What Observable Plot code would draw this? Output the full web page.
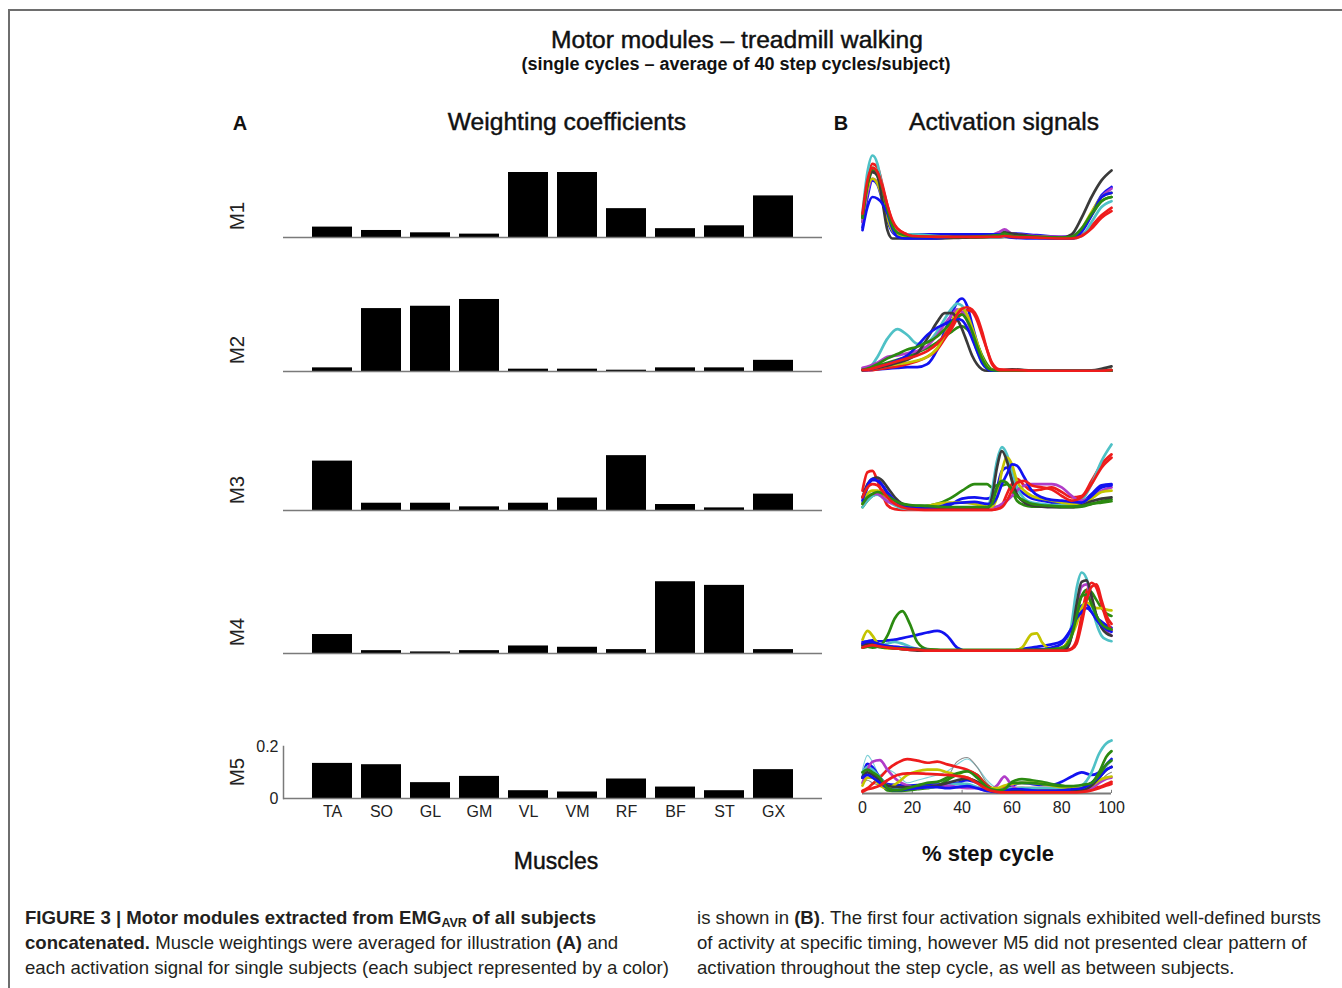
<!DOCTYPE html>
<html>
<head>
<meta charset="utf-8">
<script src="https://cdn.jsdelivr.net/npm/d3@7"></script>
<script src="https://cdn.jsdelivr.net/npm/@observablehq/plot@0.6"></script>
<style>
  html, body { margin: 0; padding: 0; background: #fff; }
  #fig { position: relative; width: 1342px; height: 988px; overflow: hidden;
         font-family: "Liberation Sans", Arial, Helvetica, sans-serif; color: #111; }
  .t { position: absolute; white-space: nowrap; line-height: 1; }
  .c { transform: translate(-50%, -50%); }
  .rot { transform: translate(-50%, -50%) rotate(-90deg); }
  .med { -webkit-text-stroke: 0.45px #111; }
  .cap { position: absolute; white-space: nowrap; font-size: 18.6px; line-height: 25px; color: #231f20; }
  .cap b { font-weight: bold; }
  .cap sub { font-size: 12.5px; vertical-align: -3px; line-height: 0; }
  .plot { position: absolute; }
</style>
</head>
<body>
<div id="fig"></div>
<script>
// ---------------- DATA ----------------
const muscles = ["TA", "SO", "GL", "GM", "VL", "VM", "RF", "BF", "ST", "GX"];
const modules = ["M1", "M2", "M3", "M4", "M5"];

// Weighting coefficients (panel A)
const wM1 = [0.040, 0.027, 0.018, 0.013, 0.250, 0.250, 0.111, 0.034, 0.045, 0.160];
const wM2 = [0.014, 0.242, 0.251, 0.277, 0.009, 0.009, 0.005, 0.014, 0.014, 0.043];
const wM3 = [0.190, 0.028, 0.028, 0.014, 0.028, 0.048, 0.211, 0.023, 0.010, 0.063];
const wM4 = [0.073, 0.011, 0.006, 0.011, 0.029, 0.024, 0.015, 0.276, 0.262, 0.015];
const wM5 = [0.135, 0.130, 0.061, 0.085, 0.030, 0.025, 0.075, 0.044, 0.030, 0.111];
const m5Ticks = [0, 0.2];

// Activation signals (panel B): % step cycle grid per module, one series per subject
const subjectColors = ["#1212f0", "#2b8a10", "#ee1c1c", "#4fc1c6", "#b03cc8", "#c4c400", "#3a3a3a", "#1212f0", "#2b8a10", "#ee1c1c"];
const stepTicks = [0, 20, 40, 60, 80, 100];

const xM1 = [0,2,4,6,8,10,12,14,17,20,30,40,50,55,57,60,70,80,84,88,92,96,100];
const sigM1 = [
  [0.13,0.5,0.7,0.65,0.45,0.22,0.08,0.04,0.05,0.05,0.05,0.05,0.05,0.05,0.05,0.06,0.04,0.02,0.03,0.12,0.30,0.52,0.62],
  [0.2,0.6,0.82,0.75,0.5,0.25,0.1,0.05,0.03,0.02,0.01,0.01,0.02,0.05,0.08,0.04,0.02,0.01,0.02,0.1,0.28,0.45,0.5],
  [0.25,0.7,0.9,0.86,0.65,0.4,0.2,0.12,0.06,0.03,0.01,0.01,0.01,0.01,0.02,0.01,0.01,0.0,0.0,0.04,0.15,0.28,0.37],
  [0.3,0.8,1.0,0.9,0.6,0.3,0.1,0.06,0.05,0.05,0.03,0.01,0.01,0.01,0.02,0.01,0.01,0.0,0.0,0.03,0.2,0.38,0.45],
  [0.2,0.55,0.72,0.68,0.5,0.28,0.1,0.04,0.02,0.02,0.02,0.02,0.03,0.08,0.11,0.06,0.03,0.02,0.02,0.1,0.3,0.5,0.6],
  [0.25,0.6,0.72,0.66,0.48,0.25,0.1,0.04,0.02,0.01,0.01,0.01,0.02,0.03,0.06,0.03,0.02,0.01,0.02,0.12,0.32,0.5,0.55],
  [0.25,0.65,0.8,0.76,0.45,0.1,0.0,0.0,0.0,0.0,0.0,0.01,0.02,0.03,0.07,0.06,0.02,0.01,0.05,0.25,0.5,0.7,0.82],
  [0.1,0.38,0.5,0.48,0.42,0.3,0.12,0.02,0.0,0.0,0.0,0.04,0.05,0.05,0.03,0.01,0.0,0.0,0.0,0.08,0.28,0.5,0.55],
  [0.25,0.65,0.85,0.8,0.6,0.35,0.15,0.07,0.04,0.03,0.02,0.02,0.03,0.04,0.06,0.03,0.02,0.01,0.02,0.12,0.3,0.45,0.5],
  [0.3,0.7,0.85,0.8,0.62,0.4,0.22,0.12,0.06,0.03,0.02,0.02,0.02,0.02,0.03,0.02,0.01,0.0,0.0,0.03,0.12,0.25,0.33]
];

const xM2 = [0,3,6,10,14,18,22,26,30,33,36,38,40,42,44,46,48,50,52,55,60,70,80,90,95,100];
const sigM2 = [
  [0.02,0.02,0.03,0.04,0.05,0.06,0.06,0.1,0.3,0.55,0.8,0.95,1.0,0.9,0.65,0.4,0.2,0.07,0.02,0.01,0.01,0.01,0.01,0.01,0.01,0.02],
  [0.03,0.05,0.08,0.12,0.16,0.2,0.26,0.32,0.4,0.48,0.55,0.6,0.62,0.58,0.5,0.38,0.22,0.1,0.03,0.01,0.01,0.01,0.01,0.01,0.01,0.02],
  [0.02,0.02,0.03,0.05,0.07,0.1,0.14,0.2,0.3,0.45,0.6,0.72,0.8,0.84,0.82,0.7,0.5,0.3,0.12,0.03,0.02,0.01,0.01,0.01,0.01,0.02],
  [0.03,0.06,0.2,0.45,0.58,0.5,0.38,0.4,0.55,0.72,0.87,0.93,0.9,0.75,0.5,0.28,0.12,0.04,0.01,0.01,0.01,0.01,0.01,0.01,0.01,0.02],
  [0.05,0.08,0.12,0.2,0.22,0.25,0.28,0.35,0.5,0.65,0.78,0.85,0.82,0.7,0.5,0.3,0.15,0.05,0.02,0.01,0.01,0.01,0.01,0.01,0.01,0.01],
  [0.02,0.03,0.05,0.08,0.1,0.12,0.15,0.2,0.32,0.5,0.7,0.82,0.86,0.78,0.6,0.4,0.2,0.07,0.02,0.01,0.01,0.01,0.01,0.01,0.01,0.02],
  [0.02,0.03,0.05,0.08,0.12,0.16,0.25,0.45,0.68,0.8,0.8,0.72,0.58,0.4,0.22,0.1,0.03,0.01,0.01,0.01,0.03,0.01,0.01,0.01,0.03,0.07],
  [0.02,0.03,0.06,0.1,0.15,0.22,0.35,0.5,0.6,0.65,0.7,0.72,0.7,0.6,0.45,0.28,0.12,0.04,0.01,0.01,0.01,0.01,0.01,0.01,0.01,0.01],
  [0.02,0.05,0.1,0.18,0.24,0.3,0.34,0.4,0.48,0.58,0.68,0.75,0.78,0.7,0.55,0.35,0.18,0.06,0.02,0.01,0.01,0.01,0.01,0.01,0.01,0.01],
  [0.02,0.03,0.06,0.1,0.14,0.18,0.22,0.28,0.38,0.5,0.65,0.78,0.86,0.88,0.85,0.75,0.55,0.3,0.1,0.02,0.02,0.01,0.01,0.01,0.01,0.02]
];

const xM3 = [0,2,4,6,8,10,13,16,20,25,30,35,40,45,50,52,54,56,58,60,62,65,68,72,76,80,84,88,92,96,100];
const sigM3 = [
  [0.1,0.35,0.46,0.46,0.38,0.25,0.12,0.06,0.03,0.02,0.03,0.08,0.18,0.2,0.18,0.2,0.35,0.6,0.65,0.5,0.35,0.25,0.18,0.15,0.12,0.1,0.1,0.12,0.25,0.38,0.4],
  [0.05,0.15,0.22,0.25,0.24,0.2,0.15,0.1,0.07,0.07,0.1,0.18,0.3,0.4,0.4,0.35,0.38,0.38,0.4,0.3,0.15,0.08,0.06,0.06,0.06,0.05,0.05,0.06,0.1,0.14,0.17],
  [0.3,0.58,0.6,0.45,0.25,0.08,0.02,0.01,0.01,0.01,0.01,0.01,0.01,0.01,0.01,0.01,0.03,0.08,0.25,0.4,0.48,0.38,0.3,0.32,0.35,0.28,0.2,0.22,0.45,0.7,0.85],
  [0.05,0.15,0.22,0.24,0.2,0.14,0.08,0.03,0.02,0.02,0.02,0.02,0.02,0.02,0.02,0.3,0.75,0.96,0.85,0.6,0.35,0.18,0.12,0.1,0.08,0.08,0.08,0.15,0.4,0.75,1.0],
  [0.1,0.2,0.25,0.25,0.2,0.14,0.1,0.07,0.05,0.04,0.04,0.04,0.04,0.05,0.05,0.05,0.06,0.1,0.15,0.22,0.3,0.38,0.4,0.4,0.4,0.35,0.22,0.15,0.2,0.3,0.35],
  [0.1,0.25,0.3,0.3,0.26,0.2,0.12,0.07,0.05,0.06,0.1,0.12,0.12,0.1,0.06,0.06,0.2,0.6,0.8,0.7,0.45,0.3,0.22,0.18,0.15,0.12,0.1,0.1,0.18,0.28,0.3],
  [0.2,0.4,0.48,0.5,0.45,0.35,0.2,0.1,0.05,0.03,0.02,0.02,0.02,0.02,0.02,0.2,0.65,0.9,0.75,0.45,0.25,0.12,0.08,0.06,0.05,0.05,0.05,0.08,0.14,0.18,0.2],
  [0.15,0.38,0.48,0.45,0.38,0.28,0.15,0.08,0.04,0.03,0.05,0.1,0.12,0.13,0.1,0.1,0.2,0.4,0.55,0.7,0.68,0.5,0.3,0.2,0.16,0.15,0.13,0.12,0.22,0.35,0.38],
  [0.1,0.2,0.25,0.28,0.26,0.22,0.15,0.1,0.08,0.07,0.06,0.05,0.05,0.05,0.05,0.1,0.35,0.45,0.42,0.32,0.22,0.15,0.1,0.08,0.07,0.06,0.06,0.07,0.1,0.12,0.14],
  [0.2,0.35,0.4,0.38,0.3,0.2,0.1,0.05,0.02,0.01,0.01,0.01,0.01,0.01,0.01,0.01,0.02,0.05,0.15,0.3,0.42,0.45,0.38,0.35,0.32,0.22,0.15,0.2,0.4,0.65,0.8]
];

const xM4 = [0,2,4,6,8,10,13,16,19,22,26,30,34,38,42,50,60,64,68,70,72,76,80,82,84,86,88,90,92,94,96,98,100];
const sigM4 = [
  [0.12,0.13,0.14,0.13,0.13,0.14,0.15,0.17,0.19,0.21,0.24,0.26,0.2,0.05,0.01,0.01,0.01,0.03,0.05,0.06,0.07,0.09,0.13,0.2,0.3,0.45,0.58,0.6,0.5,0.42,0.38,0.33,0.3],
  [0.05,0.06,0.05,0.06,0.1,0.2,0.42,0.51,0.35,0.12,0.03,0.02,0.01,0.01,0.01,0.01,0.01,0.01,0.01,0.01,0.02,0.03,0.05,0.1,0.25,0.5,0.7,0.78,0.75,0.65,0.55,0.48,0.45],
  [0.08,0.1,0.09,0.08,0.07,0.06,0.05,0.04,0.03,0.02,0.01,0.01,0.01,0.01,0.01,0.01,0.01,0.01,0.01,0.01,0.01,0.01,0.01,0.02,0.04,0.15,0.45,0.75,0.87,0.8,0.6,0.4,0.27],
  [0.07,0.1,0.09,0.08,0.08,0.1,0.12,0.1,0.06,0.03,0.01,0.01,0.01,0.01,0.01,0.01,0.01,0.01,0.01,0.01,0.01,0.02,0.02,0.05,0.35,0.8,1.0,0.92,0.6,0.35,0.2,0.15,0.13],
  [0.1,0.11,0.1,0.09,0.08,0.07,0.06,0.05,0.04,0.03,0.02,0.01,0.01,0.01,0.01,0.01,0.01,0.01,0.01,0.01,0.02,0.02,0.03,0.05,0.2,0.55,0.82,0.85,0.65,0.45,0.32,0.25,0.2],
  [0.15,0.26,0.2,0.1,0.05,0.04,0.04,0.03,0.03,0.02,0.02,0.01,0.01,0.01,0.01,0.01,0.01,0.05,0.22,0.23,0.12,0.03,0.04,0.1,0.2,0.35,0.55,0.62,0.58,0.55,0.55,0.53,0.52],
  [0.08,0.1,0.11,0.1,0.07,0.05,0.04,0.03,0.02,0.01,0.01,0.01,0.01,0.01,0.01,0.01,0.01,0.01,0.01,0.01,0.01,0.01,0.02,0.04,0.2,0.6,0.88,0.9,0.7,0.45,0.3,0.23,0.2],
  [0.1,0.12,0.12,0.1,0.08,0.07,0.06,0.05,0.04,0.03,0.02,0.01,0.01,0.01,0.01,0.01,0.01,0.01,0.02,0.03,0.03,0.05,0.1,0.18,0.3,0.42,0.5,0.55,0.5,0.4,0.33,0.28,0.25],
  [0.05,0.06,0.07,0.06,0.05,0.05,0.04,0.04,0.03,0.03,0.02,0.02,0.02,0.02,0.02,0.02,0.02,0.02,0.02,0.02,0.02,0.03,0.04,0.08,0.2,0.45,0.7,0.72,0.6,0.45,0.35,0.3,0.28],
  [0.05,0.07,0.08,0.07,0.06,0.05,0.04,0.03,0.02,0.02,0.01,0.01,0.01,0.01,0.01,0.01,0.01,0.01,0.01,0.01,0.01,0.01,0.01,0.01,0.03,0.1,0.35,0.65,0.82,0.85,0.65,0.45,0.35]
];

const xM5 = [0,2,4,7,10,14,18,22,26,30,34,38,42,46,50,54,57,60,64,68,72,76,80,84,88,92,95,98,100];
const sigM5 = [
  [0.3,0.56,0.5,0.3,0.18,0.16,0.15,0.16,0.17,0.17,0.18,0.2,0.25,0.2,0.1,0.05,0.08,0.15,0.2,0.18,0.16,0.16,0.22,0.32,0.4,0.35,0.4,0.55,0.65],
  [0.3,0.45,0.4,0.22,0.06,0.05,0.06,0.08,0.1,0.14,0.25,0.36,0.42,0.35,0.15,0.05,0.12,0.22,0.27,0.25,0.22,0.18,0.15,0.12,0.12,0.2,0.4,0.7,0.8],
  [0.05,0.1,0.18,0.3,0.45,0.58,0.65,0.62,0.58,0.6,0.55,0.5,0.45,0.35,0.15,0.08,0.1,0.1,0.1,0.1,0.1,0.1,0.1,0.1,0.1,0.1,0.12,0.18,0.22],
  [0.4,0.5,0.45,0.3,0.15,0.1,0.1,0.12,0.12,0.13,0.15,0.18,0.18,0.12,0.08,0.06,0.08,0.1,0.1,0.1,0.1,0.1,0.1,0.1,0.15,0.4,0.75,0.95,1.0],
  [0.2,0.45,0.6,0.63,0.45,0.25,0.15,0.1,0.12,0.15,0.15,0.12,0.1,0.1,0.05,0.15,0.32,0.15,0.05,0.04,0.05,0.05,0.05,0.05,0.05,0.1,0.2,0.28,0.3],
  [0.15,0.3,0.3,0.15,0.1,0.2,0.35,0.42,0.45,0.45,0.4,0.35,0.3,0.2,0.1,0.1,0.15,0.18,0.2,0.2,0.18,0.15,0.12,0.1,0.1,0.15,0.25,0.3,0.32],
  [0.3,0.4,0.35,0.25,0.15,0.12,0.12,0.12,0.13,0.15,0.2,0.25,0.28,0.22,0.1,0.05,0.05,0.06,0.06,0.05,0.05,0.05,0.05,0.05,0.06,0.15,0.3,0.45,0.5],
  [0.3,0.35,0.3,0.2,0.1,0.06,0.08,0.1,0.12,0.12,0.1,0.12,0.14,0.1,0.05,0.03,0.05,0.08,0.08,0.06,0.05,0.05,0.06,0.08,0.1,0.2,0.3,0.45,0.5],
  [0.4,0.45,0.4,0.3,0.1,0.06,0.1,0.15,0.2,0.22,0.3,0.38,0.42,0.3,0.12,0.06,0.08,0.2,0.2,0.2,0.18,0.16,0.14,0.14,0.16,0.2,0.35,0.55,0.62],
  [0.03,0.08,0.1,0.15,0.25,0.35,0.38,0.38,0.37,0.36,0.35,0.33,0.3,0.2,0.08,0.03,0.02,0.02,0.02,0.02,0.02,0.02,0.02,0.02,0.03,0.06,0.1,0.15,0.18]
];
// two thin traces visible only in M5
const sigM5Thin = [
  [0.45,0.72,0.6,0.35,0.45,0.35,0.2,0.25,0.3,0.35,0.42,0.55,0.65,0.5,0.25,0.1,0.08,0.1,0.12,0.1,0.1,0.1,0.1,0.1,0.1,0.15,0.3,0.5,0.6],
  [0.2,0.25,0.2,0.15,0.1,0.1,0.12,0.15,0.18,0.2,0.3,0.6,0.68,0.5,0.2,0.06,0.04,0.04,0.04,0.04,0.04,0.04,0.04,0.04,0.05,0.1,0.2,0.35,0.4]
];
const thinColors = ["#7ccfd6", "#8c8c8c"];

// ---------------- LAYOUT / STYLE ----------------
const L = {
  pxPerUnit: 260,
  barLeft: 233, barWidth: 599, barML: 50, barMR: 10,
  barBase: [237, 371, 510, 653, 798],
  lineLeft: 842, lineWidth: 289, lineML: 20, lineMR: 20,
  lineBase: [238, 371, 510, 651, 793], lineTop: [155, 298, 444, 572, 740],
  labelX: 237, labelY: [216, 350, 490, 632, 772]
};
const gray = "#7a7a7a";
const fontFamily = '"Liberation Sans", Arial, Helvetica, sans-serif';
const barSets = [wM1, wM2, wM3, wM4, wM5];
const gridSets = [xM1, xM2, xM3, xM4, xM5];
const sigSets = [sigM1, sigM2, sigM3, sigM4, sigM5];

const fig = document.getElementById("fig");
function addText(html, x, y, css, cls = "t c") {
  const d = document.createElement("div");
  d.className = cls;
  d.innerHTML = html;
  d.style.left = x + "px";
  d.style.top = y + "px";
  Object.assign(d.style, css || {});
  fig.appendChild(d);
  return d;
}
function place(svg, left, top) {
  svg.classList.add("plot");
  svg.style.left = left + "px";
  svg.style.top = top + "px";
  fig.appendChild(svg);
}

// frame lines of the figure box
const topLine = document.createElement("div");
Object.assign(topLine.style, {position: "absolute", left: "8px", top: "9px", width: "1340px", height: "2px", background: "#6e6e6e"});
fig.appendChild(topLine);
const leftLine = document.createElement("div");
Object.assign(leftLine.style, {position: "absolute", left: "8px", top: "9px", width: "2px", height: "985px", background: "#6e6e6e"});
fig.appendChild(leftLine);

// titles
addText("Motor modules – treadmill walking", 737, 40, {fontSize: "24.6px"}, "t c med");
addText("(single cycles – average of 40 step cycles/subject)", 736, 64, {fontSize: "18px", fontWeight: "bold"});
addText("A", 240, 123, {fontSize: "20px", fontWeight: "bold"});
addText("Weighting coefficients", 567, 122, {fontSize: "24.6px"}, "t c med");
addText("B", 841, 123, {fontSize: "20px", fontWeight: "bold"});
addText("Activation signals", 1004, 122, {fontSize: "24.6px"}, "t c med");
addText("Muscles", 556, 861, {fontSize: "23px"}, "t c med");
addText("% step cycle", 988, 854, {fontSize: "22px", fontWeight: "bold"});

// module labels
modules.forEach((m, i) => addText(m, L.labelX, L.labelY[i], {fontSize: "20.5px", color: "#222"}, "t rot"));

// ---------------- PANEL A: bars ----------------
modules.forEach((m, i) => {
  const last = i === modules.length - 1;
  const yMax = last ? 0.2 : 0.3;
  const innerH = yMax * L.pxPerUnit;
  const mt = 10, mb = last ? 40 : 4;
  const data = muscles.map((k, j) => ({muscle: k, value: barSets[i][j]}));
  const marks = [
    Plot.barY(data, {x: "muscle", y: "value", fill: "#000"}),
    Plot.ruleY([0], {stroke: gray, strokeWidth: 1.5})
  ];
  if (last) {
    marks.push(
      Plot.frame({anchor: "left", stroke: gray, strokeWidth: 1.5}),
      Plot.axisX({tickSize: 0, tickPadding: 7, label: null, fill: "#222"}),
      Plot.axisY({ticks: m5Ticks, tickSize: 0, tickPadding: 5, label: null, fill: "#222", tickFormat: d => String(d)})
    );
  }
  const svg = Plot.plot({
    width: L.barWidth, height: mt + innerH + mb,
    marginTop: mt, marginBottom: mb, marginLeft: L.barML, marginRight: L.barMR,
    x: Object.assign({type: "band", domain: muscles, paddingInner: 0.18, paddingOuter: 0.59}, last ? {} : {axis: null}),
    y: Object.assign({domain: [0, yMax]}, last ? {} : {axis: null}),
    style: {fontFamily, fontSize: "16px", background: "transparent", overflow: "visible"},
    marks
  });
  place(svg, L.barLeft, L.barBase[i] - innerH - mt);
});

// ---------------- PANEL B: activation signals ----------------
modules.forEach((m, i) => {
  const last = i === modules.length - 1;
  const innerH = L.lineBase[i] - L.lineTop[i];
  const mt = 6, mb = last ? 36 : 6;
  const xs = gridSets[i];
  const marks = [];
  if (last) {
    marks.push(Plot.ruleY([0], {stroke: gray, strokeWidth: 2}));
    marks.push(Plot.ruleX(stepTicks, {y1: 0, y2: 0.06, stroke: gray, strokeWidth: 1}));
    sigM5Thin.forEach((vals, k) => {
      const d = vals.map((v, j) => ({x: xs[j], y: v}));
      marks.push(Plot.line(d, {x: "x", y: "y", stroke: thinColors[k], strokeWidth: 1.1, curve: "monotone-x"}));
    });
  }
  sigSets[i].forEach((vals, s) => {
    const d = vals.map((v, j) => ({x: xs[j], y: v}));
    marks.push(Plot.line(d, {x: "x", y: "y", stroke: subjectColors[s], strokeWidth: 2.7, curve: "monotone-x"}));
  });
  if (last) {
    marks.push(Plot.axisX({ticks: stepTicks, tickSize: 0, tickPadding: 8, label: null, fill: "#222"}));
  }
  const svg = Plot.plot({
    width: L.lineWidth, height: mt + innerH + mb,
    marginTop: mt, marginBottom: mb, marginLeft: L.lineML, marginRight: L.lineMR,
    x: Object.assign({domain: [0, 100]}, last ? {} : {axis: null}),
    y: {domain: [0, 1], axis: null},
    style: {fontFamily, fontSize: "16px", background: "transparent", overflow: "visible"},
    marks
  });
  place(svg, L.lineLeft, L.lineTop[i] - mt);
});

// ---------------- CAPTION ----------------
const captionLeft = [
  '<b>FIGURE 3 | Motor modules extracted from EMG<sub>AVR</sub> of all subjects</b>',
  '<b>concatenated.</b> Muscle weightings were averaged for illustration <b>(A)</b> and',
  'each activation signal for single subjects (each subject represented by a color)'
];
const captionRight = [
  'is shown in <b>(B)</b>. The first four activation signals exhibited well-defined bursts',
  'of activity at specific timing, however M5 did not presented clear pattern of',
  'activation throughout the step cycle, as well as between subjects.'
];
const capL = document.createElement("div");
capL.className = "cap";
capL.style.left = "25px"; capL.style.top = "905px";
capL.innerHTML = captionLeft.join("<br>");
fig.appendChild(capL);
const capR = document.createElement("div");
capR.className = "cap";
capR.style.left = "697px"; capR.style.top = "905px";
capR.innerHTML = captionRight.join("<br>");
fig.appendChild(capR);
</script>
</body>
</html>
